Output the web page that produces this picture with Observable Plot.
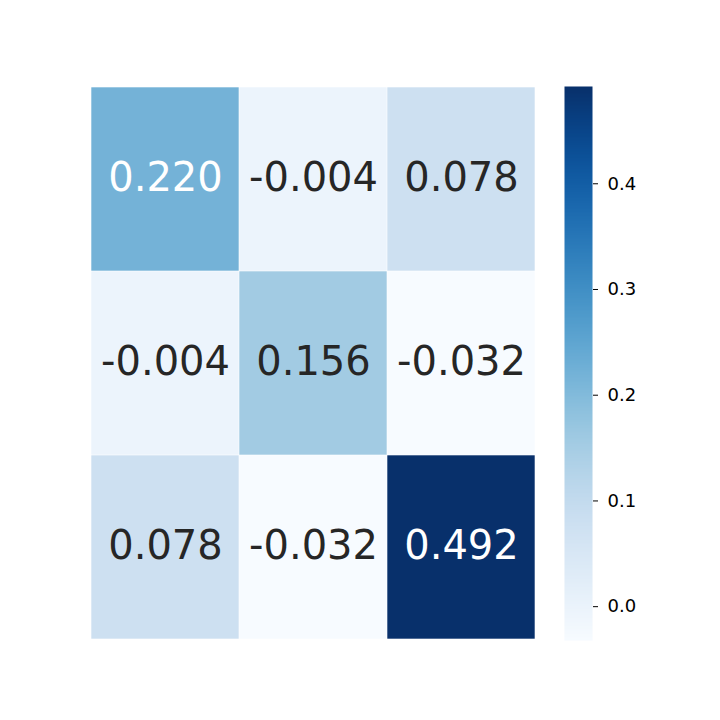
<!DOCTYPE html>
<html>
<head>
<meta charset="utf-8">
<script src="https://cdn.jsdelivr.net/npm/d3@7"></script>
<script src="https://cdn.jsdelivr.net/npm/@observablehq/plot@0.6"></script>
<style>
  html, body { margin: 0; padding: 0; background: #fff; }
  #wrap { position: relative; width: 720px; height: 720px; }
  #wrap svg { position: absolute; left: 0; top: 0; font-family: "DejaVu Sans", sans-serif; }
</style>
</head>
<body>
<div id="wrap"></div>
<script>
const rowIdx = [0, 1, 2];
const colIdx = [0, 1, 2];
const values = [
  [0.220, -0.004, 0.078],
  [-0.004, 0.156, -0.032],
  [0.078, -0.032, 0.492]
];
const colorTicks = [0.0, 0.1, 0.2, 0.3, 0.4];

const vmin = d3.min(values.flat());
const vmax = d3.max(values.flat());

const cells = [];
rowIdx.forEach(r => colIdx.forEach(c => cells.push({row: r, col: c, value: values[r][c]})));

function textColor(v) {
  const col = d3.rgb(d3.interpolateBlues((v - vmin) / (vmax - vmin)));
  const lin = x => { x /= 255; return x <= 0.03928 ? x / 12.92 : Math.pow((x + 0.055) / 1.055, 2.4); };
  const lum = 0.2126 * lin(col.r) + 0.7152 * lin(col.g) + 0.0722 * lin(col.b);
  return lum > 0.408 ? "#262626" : "#ffffff";
}

const colorScale = {type: "linear", scheme: "blues", domain: [vmin, vmax]};

const heat = Plot.plot({
  width: 720, height: 720,
  marginLeft: 90, marginRight: 184, marginTop: 86, marginBottom: 80,
  x: {type: "band", domain: colIdx, padding: 0, axis: null},
  y: {type: "band", domain: rowIdx, padding: 0, axis: null},
  color: colorScale,
  style: {fontFamily: "DejaVu Sans, sans-serif", background: "transparent"},
  marks: [
    Plot.cell(cells, {x: "col", y: "row", fill: "value", inset: 0.3}),
    Plot.text(cells, {x: "col", y: "row", text: d => d.value.toFixed(3), dy: -1,
      fill: d => textColor(d.value), fontSize: 40, fontFamily: "DejaVu Sans, sans-serif"})
  ]
});

const bar = Plot.plot({
  width: 720, height: 720,
  marginLeft: 564, marginRight: 128, marginTop: 86, marginBottom: 80,
  x: {type: "linear", domain: [0, 1], axis: null},
  y: {type: "linear", domain: [vmin, vmax], axis: null},
  color: colorScale,
  style: {fontFamily: "DejaVu Sans, sans-serif", fontSize: "18px", color: "#000", background: "transparent"},
  marks: [
    Plot.raster({x1: 0, x2: 1, y1: vmin, y2: vmax, width: 1, height: 400,
      fill: (x, y) => y}),
    Plot.axisY(colorTicks, {anchor: "right", tickSize: 5, tickPadding: 10,
      tickFormat: d3.format(".1f"), fontSize: 18, label: null, stroke: "#000", fill: "#000"})
  ]
});

const wrap = document.getElementById("wrap");
wrap.appendChild(heat);
wrap.appendChild(bar);
</script>
</body>
</html>
